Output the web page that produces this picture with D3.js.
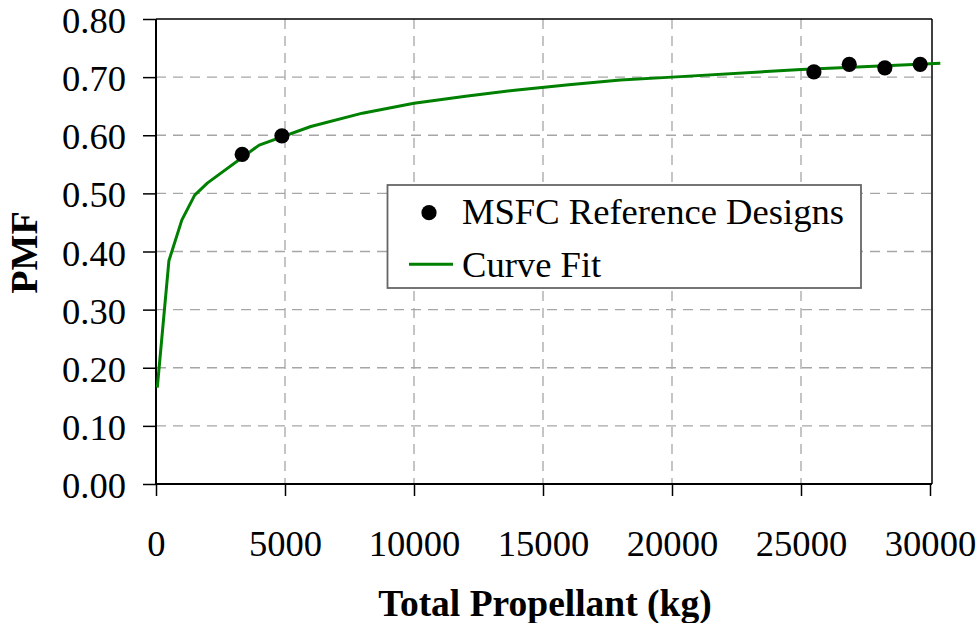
<!DOCTYPE html>
<html>
<head>
<meta charset="utf-8">
<script src="https://cdn.jsdelivr.net/npm/d3@7"></script>
<style>
  html, body { margin: 0; padding: 0; background: #fff; }
  svg { display: block; font-family: "Liberation Serif", "Times New Roman", serif; }
</style>
</head>
<body>
<svg id="chart" width="980" height="623"></svg>
<script>
// ---- Data ----
const refPropellant = [3340, 4880, 25500, 26870, 28250, 29620];
const refPMF        = [0.567, 0.599, 0.709, 0.722, 0.716, 0.722];

const fitPropellant = [50, 500, 1000, 1500, 2000, 4000, 6000, 8000, 10000, 12000, 14000, 16000, 18000, 20000, 25000, 30000, 30400];
const fitPMF        = [0.166, 0.384, 0.454, 0.497, 0.518, 0.583, 0.615, 0.638, 0.655, 0.667, 0.678, 0.687, 0.695, 0.700, 0.713, 0.723, 0.724];

const xTicks = [0, 5000, 10000, 15000, 20000, 25000, 30000];
const yTicks = [0, 0.1, 0.2, 0.3, 0.4, 0.5, 0.6, 0.7, 0.8];

const seriesNames = ["MSFC Reference Designs", "Curve Fit"];
const xTitle = "Total Propellant (kg)";
const yTitle = "PMF";

// ---- Layout ----
const svg = d3.select("#chart");
const mLeft = 156, mRight = 932, mTop = 19, mBottom = 484;

const x = d3.scaleLinear().domain([0, 30000]).range([mLeft, mRight - 2]);
const y = d3.scaleLinear().domain([0, 0.8]).range([mBottom, mTop]);

const fontSize = 36.6;

// Grid lines
const grid = svg.append("g");
grid.selectAll("line.h").data(yTicks.slice(1, -1)).join("line")
  .attr("x1", mLeft).attr("x2", mRight)
  .attr("y1", d => y(d)).attr("y2", d => y(d))
  .attr("stroke", "#a6a6a6").attr("stroke-width", 1.3)
  .attr("stroke-dasharray", "10,7");
grid.selectAll("line.v").data(xTicks.slice(1, -1)).join("line")
  .attr("y1", mTop).attr("y2", mBottom)
  .attr("x1", d => x(d)).attr("x2", d => x(d))
  .attr("stroke", "#a6a6a6").attr("stroke-width", 1.3)
  .attr("stroke-dasharray", "10,7");

// Frame: top and right border
svg.append("line").attr("x1", mLeft).attr("x2", mRight).attr("y1", mTop).attr("y2", mTop)
  .attr("stroke", "#000").attr("stroke-width", 1.5);
svg.append("line").attr("x1", mRight).attr("x2", mRight).attr("y1", mTop).attr("y2", mBottom)
  .attr("stroke", "#000").attr("stroke-width", 1.5);

// Axes
const yAxis = d3.axisLeft(y).tickValues(yTicks).tickFormat(d3.format(".2f"))
  .tickSize(13).tickPadding(17);
const gy = svg.append("g").attr("transform", `translate(${mLeft},0)`).call(yAxis);
const xAxis = d3.axisBottom(x).tickValues(xTicks).tickFormat(d3.format("d"))
  .tickSize(12).tickPadding(34);
const gx = svg.append("g").attr("transform", `translate(0,${mBottom})`).call(xAxis);

[gx, gy].forEach(g => {
  g.select(".domain").attr("stroke", "#000").attr("stroke-width", 2);
  g.selectAll(".tick line").attr("stroke", "#000").attr("stroke-width", 1.5);
  g.selectAll(".tick text").attr("fill", "#000")
    .style("font-family", '"Liberation Serif", "Times New Roman", serif')
    .style("font-size", fontSize + "px");
});
gy.select(".domain").attr("d", `M0,${mTop}V${mBottom}`);
gx.select(".domain").attr("d", `M${mLeft},0H${mRight}`);
gy.selectAll(".tick text").attr("dy", "0.37em");
gx.selectAll(".tick text").attr("dy", "0.71em");

// Curve fit line
const line = d3.line().x(d => x(d[0])).y(d => y(d[1]));
svg.append("path")
  .datum(fitPropellant.map((p, i) => [p, fitPMF[i]]))
  .attr("d", line)
  .attr("fill", "none").attr("stroke", "#008000").attr("stroke-width", 3)
  .attr("stroke-linejoin", "round");

// Reference points
svg.append("g").selectAll("circle")
  .data(refPropellant.map((p, i) => [p, refPMF[i]]))
  .join("circle")
  .attr("cx", d => x(d[0])).attr("cy", d => y(d[1]))
  .attr("r", 7.6).attr("fill", "#000");

// Axis titles
svg.append("text").attr("x", 545).attr("y", 616)
  .attr("text-anchor", "middle").attr("font-weight", "bold")
  .style("font-size", "37.5px").text(xTitle);
svg.append("text")
  .attr("transform", "translate(37,252.5) rotate(-90)")
  .attr("text-anchor", "middle").attr("font-weight", "bold")
  .style("font-size", "38px").text(yTitle);

// Legend
const lg = svg.append("g");
lg.append("rect").attr("x", 387.5).attr("y", 185).attr("width", 473.5).attr("height", 103)
  .attr("fill", "#fff").attr("stroke", "#666").attr("stroke-width", 1.8);
lg.append("circle").attr("cx", 429).attr("cy", 212.7).attr("r", 7.6).attr("fill", "#000");
lg.append("line").attr("x1", 409).attr("x2", 453).attr("y1", 264.3).attr("y2", 264.3)
  .attr("stroke", "#008000").attr("stroke-width", 3);
lg.append("text").attr("x", 462).attr("y", 223.5).style("font-size", fontSize + "px").text(seriesNames[0]);
lg.append("text").attr("x", 462).attr("y", 276.7).style("font-size", fontSize + "px").text(seriesNames[1]);
</script>
</body>
</html>
